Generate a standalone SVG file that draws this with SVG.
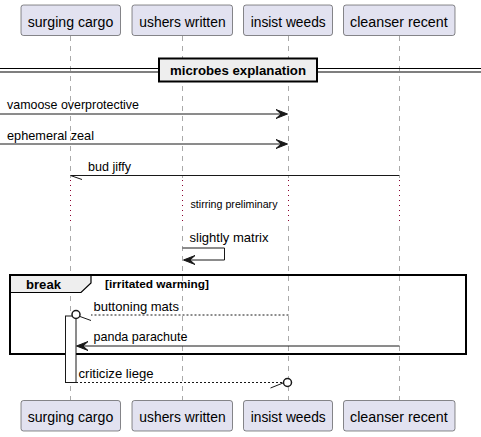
<svg xmlns="http://www.w3.org/2000/svg" width="481" height="437" viewBox="0 0 481 437">
<defs>
<style>
.pbox{fill:#E2E2F0;stroke:#181818;stroke-width:0.5}
.ptxt{font-family:"Liberation Sans",Arial,sans-serif;font-size:14px;fill:#000}
.life{stroke:#555;stroke-width:0.5;stroke-dasharray:5,5;fill:none}
.delay{stroke:#8B0030;stroke-width:1;stroke-dasharray:1,4;fill:none}
.msg{stroke:#181818;stroke-width:1;fill:none}
.dash{stroke:#181818;stroke-width:1;fill:none;stroke-dasharray:2,2}
.mtxt{font-family:"Liberation Sans",Arial,sans-serif;font-size:13px;fill:#000}
.head{fill:#181818;stroke:#181818;stroke-width:1}
.btxt{font-family:"Liberation Sans",Arial,sans-serif;font-weight:bold;fill:#000}
</style>
</defs>
<g id="lifelines">
<line class="life" x1="70.5" y1="36" x2="70.5" y2="178"/>
<line class="life" x1="182.5" y1="36" x2="182.5" y2="178"/>
<line class="life" x1="288.5" y1="36" x2="288.5" y2="178"/>
<line class="life" x1="399.5" y1="36" x2="399.5" y2="178"/>
<line class="delay" x1="70.5" y1="180" x2="70.5" y2="225"/>
<line class="delay" x1="182.5" y1="180" x2="182.5" y2="225"/>
<line class="delay" x1="288.5" y1="180" x2="288.5" y2="225"/>
<line class="delay" x1="399.5" y1="180" x2="399.5" y2="225"/>
<line class="life" x1="70.5" y1="226" x2="70.5" y2="400"/>
<line class="life" x1="182.5" y1="226" x2="182.5" y2="400"/>
<line class="life" x1="288.5" y1="226" x2="288.5" y2="400"/>
<line class="life" x1="399.5" y1="226" x2="399.5" y2="400"/>
</g>
<g id="divider">
<line x1="0" y1="68.5" x2="481" y2="68.5" stroke="#000" stroke-width="1.2"/>
<line x1="0" y1="72" x2="481" y2="72" stroke="#000" stroke-width="1.2"/>
<rect x="159" y="58.5" width="158" height="23" fill="#EEEEEE" stroke="#000" stroke-width="2"/>
<text class="btxt" x="238" y="75" font-size="13" text-anchor="middle" textLength="136" lengthAdjust="spacingAndGlyphs">microbes explanation</text>
</g>
<g id="frame-break">
<rect x="10" y="275" width="456" height="79" fill="none" stroke="#000" stroke-width="2"/>
<path d="M10,275 H91 V283 L81,292.5 H10 Z" fill="#EEEEEE" stroke="#000" stroke-width="1.2"/>
<rect x="10" y="275" width="456" height="79" fill="none" stroke="#000" stroke-width="2"/>
<text class="btxt" x="26" y="289" font-size="13" textLength="35" lengthAdjust="spacingAndGlyphs">break</text>
<text class="btxt" x="105" y="288" font-size="11" textLength="104" lengthAdjust="spacingAndGlyphs">[irritated warming]</text>
</g>
<g id="activation">
<rect x="65.5" y="316" width="10.5" height="66.5" fill="#fff" stroke="#181818" stroke-width="1"/>
</g>
<g id="connectors">
<line class="msg" x1="0" y1="114" x2="286" y2="114"/>
<polygon class="head" points="287.5,114 276,109.5 281,114 276,118.5"/>
<text class="mtxt" x="7" y="109" textLength="132" lengthAdjust="spacingAndGlyphs">vamoose overprotective</text>
<line class="msg" x1="0" y1="144" x2="286" y2="144"/>
<polygon class="head" points="287.5,144 276,139.5 281,144 276,148.5"/>
<text class="mtxt" x="7" y="139.5" textLength="87" lengthAdjust="spacingAndGlyphs">ephemeral zeal</text>
<line class="msg" x1="399.5" y1="175.5" x2="70.5" y2="175.5"/>
<line class="msg" x1="70.5" y1="175.5" x2="82" y2="179.5"/>
<text class="mtxt" x="88" y="170.5" textLength="43" lengthAdjust="spacingAndGlyphs">bud jiffy</text>
<text class="mtxt" x="190.5" y="208" font-size="11" style="font-size:11px" textLength="87" lengthAdjust="spacingAndGlyphs">stirring preliminary</text>
<polyline class="msg" points="182.5,248 224.5,248 224.5,260 184,260"/>
<polygon class="head" points="183.5,260 195,255.5 190,260 195,264.5"/>
<text class="mtxt" x="189.5" y="242" textLength="79" lengthAdjust="spacingAndGlyphs">slightly matrix</text>
<line class="dash" x1="288.5" y1="315" x2="91" y2="315"/>
<line class="msg" x1="80" y1="316.5" x2="91" y2="320.5"/>
<circle cx="76" cy="314.5" r="4" fill="#fff" stroke="#181818" stroke-width="1.5"/>
<text class="mtxt" x="93.5" y="311" textLength="85.5" lengthAdjust="spacingAndGlyphs">buttoning mats</text>
<line class="msg" x1="399.5" y1="346" x2="78" y2="346"/>
<polygon class="head" points="76.5,346 88,341.5 83,346 88,350.5"/>
<text class="mtxt" x="93.5" y="340.5" textLength="94" lengthAdjust="spacingAndGlyphs">panda parachute</text>
<line class="dash" x1="76" y1="382.5" x2="283" y2="382.5"/>
<line class="msg" x1="270.5" y1="388" x2="283" y2="383"/>
<circle cx="287.5" cy="382.5" r="4" fill="#fff" stroke="#181818" stroke-width="1.5"/>
<text class="mtxt" x="78.5" y="378" textLength="75" lengthAdjust="spacingAndGlyphs">criticize liege</text>
</g>
<g id="p-surging-cargo">
<rect class="pbox" x="21" y="5" width="99.5" height="30.5" rx="2.5"/>
<text class="ptxt" x="27.7" y="27" textLength="85.6" lengthAdjust="spacingAndGlyphs">surging cargo</text>
<rect class="pbox" x="21" y="400.5" width="99.5" height="30.5" rx="2.5"/>
<text class="ptxt" x="27.7" y="422" textLength="85.6" lengthAdjust="spacingAndGlyphs">surging cargo</text>
</g>
<g id="p-ushers-written">
<rect class="pbox" x="132" y="5" width="100.5" height="30.5" rx="2.5"/>
<text class="ptxt" x="139.3" y="27" textLength="86.3" lengthAdjust="spacingAndGlyphs">ushers written</text>
<rect class="pbox" x="132" y="400.5" width="100.5" height="30.5" rx="2.5"/>
<text class="ptxt" x="139.3" y="422" textLength="86.3" lengthAdjust="spacingAndGlyphs">ushers written</text>
</g>
<g id="p-insist-weeds">
<rect class="pbox" x="243.5" y="5" width="89" height="30.5" rx="2.5"/>
<text class="ptxt" x="250.7" y="27" textLength="75" lengthAdjust="spacingAndGlyphs">insist weeds</text>
<rect class="pbox" x="243.5" y="400.5" width="89" height="30.5" rx="2.5"/>
<text class="ptxt" x="250.7" y="422" textLength="75" lengthAdjust="spacingAndGlyphs">insist weeds</text>
</g>
<g id="p-cleanser-recent">
<rect class="pbox" x="343.5" y="5" width="111.5" height="30.5" rx="2.5"/>
<text class="ptxt" x="350" y="27" textLength="97.7" lengthAdjust="spacingAndGlyphs">cleanser recent</text>
<rect class="pbox" x="343.5" y="400.5" width="111.5" height="30.5" rx="2.5"/>
<text class="ptxt" x="350" y="422" textLength="97.7" lengthAdjust="spacingAndGlyphs">cleanser recent</text>
</g>
</svg>
